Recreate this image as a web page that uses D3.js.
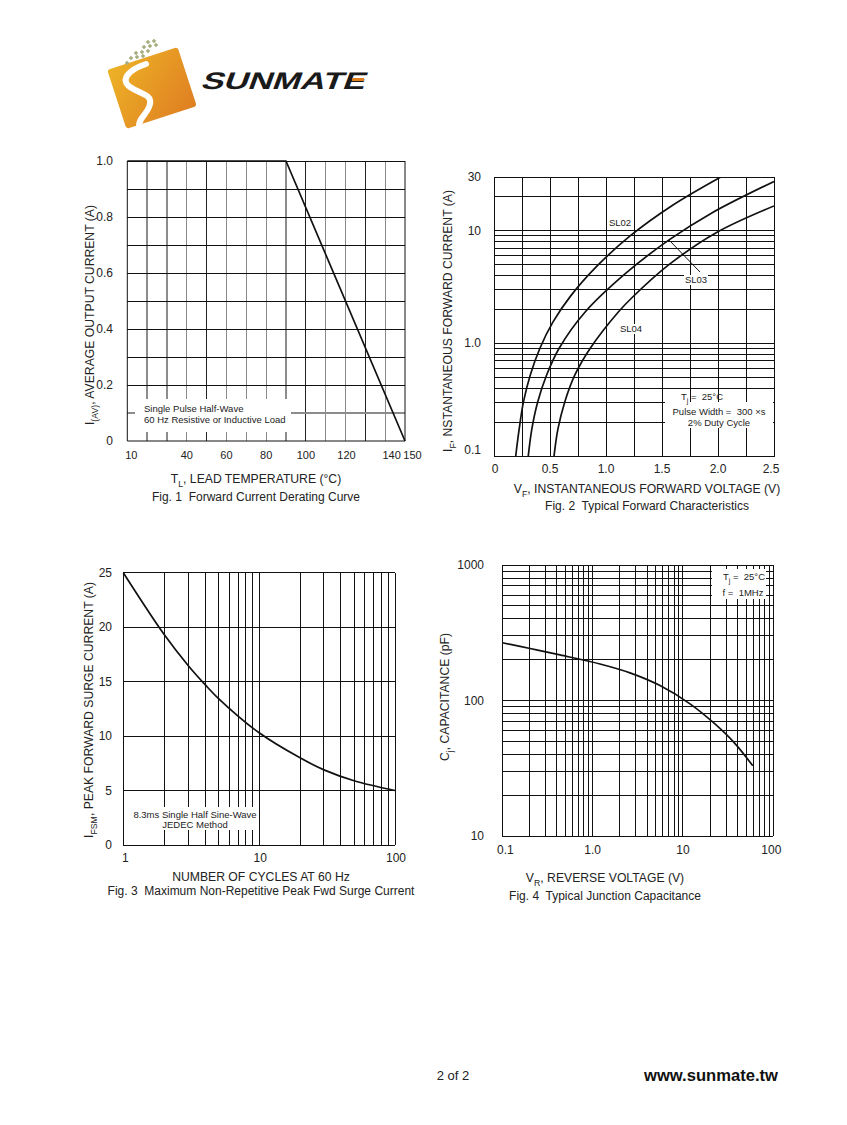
<!DOCTYPE html>
<html><head><meta charset="utf-8">
<script src="https://cdn.jsdelivr.net/npm/d3@7"></script>
<style>
body{margin:0;background:#fff}
svg{display:block}
text{font-family:"Liberation Sans",Arial,Helvetica,sans-serif;fill:#222;white-space:pre}
</style>
</head><body>
<svg id="c" width="847" height="1125"></svg>
<script>
// ---------------- DATA ----------------
// Fig. 1 Forward Current Derating Curve
const fig1Temp = [10, 90, 150];
const fig1Current = [1.0, 1.0, 0];
const fig1XTicks = [10, 40, 60, 80, 100, 120, 140, 150];
const fig1YTicks = [0, 0.2, 0.4, 0.6, 0.8, 1.0];
const fig1YTickLabels = ["0", "0.2", "0.4", "0.6", "0.8", "1.0"];

// Fig. 2 Typical Forward Characteristics
const fig2Series = ["SL02", "SL03", "SL04"];
const sl02Volt = [0.194, 0.225, 0.263, 0.324, 0.411, 0.527, 0.685, 0.921, 1.215, 1.585, 2.025];
const sl02Amp  = [0.1, 0.174, 0.302, 0.524, 0.91, 1.55, 2.64, 4.87, 8.99, 16.6, 30];
const sl03Volt = [0.306, 0.338, 0.39, 0.47, 0.583, 0.814, 1.18, 1.563, 1.945, 2.5];
const sl03Amp  = [0.1, 0.174, 0.302, 0.524, 0.91, 1.90, 4.22, 8.29, 14.4, 27.4];
const sl04Volt = [0.536, 0.571, 0.632, 0.722, 0.861, 1.11, 1.238, 1.559, 1.98, 2.5];
const sl04Amp  = [0.1, 0.174, 0.302, 0.524, 0.91, 1.90, 2.58, 4.97, 9.56, 16.6];
const fig2XTicks = [0, 0.5, 1.0, 1.5, 2.0, 2.5];
const fig2XTickLabels = ["0", "0.5", "1.0", "1.5", "2.0", "2.5"];
const fig2YTicks = [0.1, 1, 10, 30];
const fig2YTickLabels = ["0.1", "1.0", "10", "30"];

// Fig. 3 Maximum Non-Repetitive Peak Fwd Surge Current
const fig3Cycles = [1, 2, 3, 4, 5, 10, 20, 30, 50, 100];
const fig3Current = [25, 19.32, 16.48, 14.72, 13.47, 10.3, 8.0, 6.9, 5.9, 5.0];
const fig3XTicks = [1, 10, 100];
const fig3YTicks = [0, 5, 10, 15, 20, 25];

// Fig. 4 Typical Junction Capacitance
const fig4Volt = [0.1, 0.203, 0.435, 1.207, 2.59, 5.57, 11.97, 22.6, 37.7, 59.2];
const fig4Cap  = [267, 242, 217, 186, 160, 129, 94.5, 67.1, 48.1, 33.0];
const fig4XTicks = [0.1, 1, 10, 100];
const fig4XTickLabels = ["0.1", "1.0", "10", "100"];
const fig4YTicks = [10, 100, 1000];

// ---------------- DRAW ----------------
const svg = d3.select("#c");
svg.append("rect").attr("width", 847).attr("height", 1125).attr("fill", "#fff");
const defs = svg.append("defs");

const TICK = 12, TITLE = 12.2, CAP = 12, SMALL = 9.5;
const smooth = d3.curveCatmullRom.alpha(0.5);

function logMinors(lo, hi) {
  const out = [];
  for (let d = lo; d < hi; d *= 10) for (let k = 1; k <= 9; k++) out.push(d * k);
  out.push(hi);
  return out;
}
function hLines(g, vals, x0, x1, y, color, w) {
  g.selectAll(null).data(vals).enter().append("line")
    .attr("x1", x0).attr("x2", x1).attr("y1", d => y(d)).attr("y2", d => y(d))
    .attr("stroke", color).attr("stroke-width", w).attr("shape-rendering", "crispEdges");
}
function vLines(g, vals, y0, y1, x, color, w) {
  g.selectAll(null).data(vals).enter().append("line")
    .attr("y1", y0).attr("y2", y1).attr("x1", d => x(d)).attr("x2", d => x(d))
    .attr("stroke", color).attr("stroke-width", w).attr("shape-rendering", "crispEdges");
}
function txt(g, x, y, s, size, anchor) {
  return g.append("text").attr("x", x).attr("y", y).attr("font-size", size)
    .attr("text-anchor", anchor || "middle").text(s);
}
function subText(g, x, y, parts, size, anchor, rotate) {
  const t = g.append("text").attr("font-size", size).attr("text-anchor", anchor || "middle");
  if (rotate) t.attr("transform", `translate(${x},${y}) rotate(-90)`);
  else t.attr("x", x).attr("y", y);
  parts.forEach((p, i) => {
    const prevSub = i > 0 && parts[i - 1][1];
    const ts = t.append("tspan").text(p[0]);
    if (p[1]) ts.attr("dy", size * 0.3).attr("font-size", size * 0.72);
    else if (prevSub) ts.attr("dy", -size * 0.3);
  });
  return t;
}
function frame(g, f) {
  g.append("rect").attr("x", f.l).attr("y", f.t).attr("width", f.r - f.l).attr("height", f.b - f.t)
    .attr("fill", "none").attr("stroke", "#111").attr("shape-rendering", "crispEdges");
}

// ---------------- LOGO ----------------
const logo = svg.append("g");
const grad = defs.append("linearGradient").attr("id", "lg").attr("x1", "0").attr("y1", "0").attr("x2", "1").attr("y2", "1");
grad.append("stop").attr("offset", "0").attr("stop-color", "#EDB226");
grad.append("stop").attr("offset", "1").attr("stop-color", "#DF7E22");
logo.append("rect").attr("x", -37).attr("y", -31).attr("width", 74).attr("height", 62).attr("rx", 3)
  .attr("fill", "url(#lg)").attr("transform", "translate(152,88) rotate(-18)");
logo.append("path")
  .attr("d", "M146,64 C128,70 120,80 130,87 C140,94 152,94 150,104 C148,114 138,118 139,127")
  .attr("fill", "none").attr("stroke", "#fff").attr("stroke-width", 6).attr("stroke-linecap", "round");
const dots = [[148,42],[154,41],[144,47],[150,46],[156,45],[136,53],[142,52],[148,51],[131,58],[137,57],[143,56],[127,63]];
logo.selectAll(null).data(dots).enter().append("rect")
  .attr("x", d => d[0] - 1.6).attr("y", d => d[1] - 1.6).attr("width", 3.2).attr("height", 3.2)
  .attr("fill", "#A7AD7E").attr("transform", d => `rotate(45,${d[0]},${d[1]})`);
logo.append("text").attr("x", 0).attr("y", 0)
  .attr("transform", "translate(200,89) skewX(-20)")
  .attr("font-size", 24).attr("font-weight", 900).attr("font-family", "'DejaVu Sans',sans-serif")
  .attr("textLength", 164).attr("lengthAdjust", "spacingAndGlyphs")
  .style("fill", "#1a1a1a").text("SUNMATE");
logo.append("rect").attr("x", 352).attr("y", 78).attr("width", 12).attr("height", 3).attr("fill", "#E07F1F");

// ---------------- FIG 1 ----------------
{
  const f = {l: 127.3, r: 405, t: 161, b: 441};
  const x = d3.scaleLinear().domain([10, 150]).range([f.l, f.r]);
  const y = d3.scaleLinear().domain([0, 1]).range([f.b, f.t]);
  const g = svg.append("g");
  const vGrid = d3.range(20, 150, 10);
  const darkV = [50, 100, 130];
  vLines(g, vGrid.filter(d => !darkV.includes(d)), f.t, f.b, x, "#8c8c8c", 1.3);
  vLines(g, vGrid.filter(d => darkV.includes(d)), f.t, f.b, x, "#222", 1);
  hLines(g, [0.1], f.l, f.r, y, "#8c8c8c", 1.3);
  hLines(g, d3.range(2, 11).map(d => d / 10), f.l, f.r, y, "#111", 1);
  g.append("rect").attr("x", 135).attr("y", 399).attr("width", 156).attr("height", 33).attr("fill", "#fff");
  txt(g, 144, 412, "Single Pulse Half-Wave", SMALL, "start");
  txt(g, 144, 423, "60 Hz Resistive or Inductive Load", SMALL, "start");
  g.append("line").attr("x1", f.l).attr("x2", f.l).attr("y1", f.t).attr("y2", f.b).attr("stroke", "#111");
  g.append("line").attr("x1", f.r).attr("x2", f.r).attr("y1", f.t).attr("y2", f.b).attr("stroke", "#111");
  g.append("line").attr("x1", f.l).attr("x2", f.r).attr("y1", f.b).attr("y2", f.b).attr("stroke", "#111");
  g.append("path").datum(fig1Temp.map((t, i) => [t, fig1Current[i]]))
    .attr("d", d3.line().x(d => x(d[0])).y(d => y(d[1])))
    .attr("fill", "none").attr("stroke", "#111").attr("stroke-width", 1.7);
  g.selectAll(null).data(fig1XTicks).enter().append("text")
    .attr("x", d => x(d) + (d === 10 ? 4 : d === 140 ? 6.5 : d === 150 ? 7.5 : d === 120 ? 1 : 0))
    .attr("y", 459).attr("font-size", 11).attr("text-anchor", "middle").text(d => d);
  g.selectAll(null).data(fig1YTicks).enter().append("text")
    .attr("x", 113).attr("y", d => y(d) + 4).attr("font-size", TICK).attr("text-anchor", "end")
    .text((d, i) => fig1YTickLabels[i]);
  subText(g, 94, 315, [["I", 0], ["(AV)", 1], [", AVERAGE OUTPUT CURRENT (A)", 0]], TITLE, "middle", true);
  subText(g, 256, 483, [["T", 0], ["L", 1], [", LEAD TEMPERATURE (°C)", 0]], TITLE, "middle");
  txt(g, 256, 501, "Fig. 1  Forward Current Derating Curve", CAP, "middle");
}

// ---------------- FIG 2 ----------------
{
  const f = {l: 494, r: 774, t: 177, b: 456};
  const x = d3.scaleLinear().domain([0, 2.5]).range([f.l, f.r]);
  const y = d3.scaleLog().domain([0.1, 30]).range([f.b, f.t]);
  const g = svg.append("g");
  vLines(g, d3.range(0, 11).map(d => d * 0.25), f.t, f.b, x, "#111", 1);
  hLines(g, logMinors(0.1, 10).concat([20, 30]), f.l, f.r, y, "#111", 1);
  defs.append("clipPath").attr("id", "clip2").append("rect")
    .attr("x", f.l).attr("y", f.t).attr("width", f.r - f.l).attr("height", f.b - f.t);
  const series = [[sl02Volt, sl02Amp], [sl03Volt, sl03Amp], [sl04Volt, sl04Amp]];
  const line = d3.line().x(d => x(d[0])).y(d => y(d[1])).curve(smooth);
  series.forEach(s => {
    g.append("path").datum(s[0].map((v, i) => [v, s[1][i]]))
      .attr("d", line).attr("clip-path", "url(#clip2)")
      .attr("fill", "none").attr("stroke", "#111").attr("stroke-width", 1.7);
  });
  const labelPos = [[620, 226], [696, 283], [631, 332]];
  fig2Series.forEach((s, i) => {
    g.append("rect").attr("x", labelPos[i][0] - 12).attr("y", labelPos[i][1] - 8)
      .attr("width", 24).attr("height", 10).attr("fill", "#fff");
    txt(g, labelPos[i][0], labelPos[i][1], s, SMALL, "middle");
  });
  g.append("line").attr("x1", 669).attr("y1", 240).attr("x2", 700).attr("y2", 272)
    .attr("stroke", "#111").attr("stroke-width", 1);
  g.append("rect").attr("x", 665).attr("y", 402).attr("width", 108).attr("height", 26).attr("fill", "#fff");
  subText(g, 702, 400, [["T", 0], ["j", 1], [" =  25°C", 0]], SMALL, "middle");
  txt(g, 719, 415, "Pulse Width =  300 ×s", SMALL, "middle");
  txt(g, 719, 426, "2% Duty Cycle", SMALL, "middle");
  frame(g, f);
  g.selectAll(null).data(fig2XTicks).enter().append("text")
    .attr("x", d => x(d) + (d === 0 ? 1 : d === 2.5 ? -3 : 0)).attr("y", 473)
    .attr("font-size", TICK).attr("text-anchor", "middle").text((d, i) => fig2XTickLabels[i]);
  g.selectAll(null).data(fig2YTicks).enter().append("text")
    .attr("x", 481).attr("y", d => y(d) + (d === 0.1 ? -2 : 4)).attr("font-size", TICK)
    .attr("text-anchor", "end").text((d, i) => fig2YTickLabels[i]);
  subText(g, 452, 321, [["I", 0], ["F", 1], [", NSTANTANEOUS FORWARD CURRENT (A)", 0]], TITLE, "middle", true);
  subText(g, 647, 493, [["V", 0], ["F", 1], [", INSTANTANEOUS FORWARD VOLTAGE (V)", 0]], TITLE, "middle");
  txt(g, 647, 510, "Fig. 2  Typical Forward Characteristics", CAP, "middle");
}

// ---------------- FIG 3 ----------------
{
  const f = {l: 123.3, r: 395, t: 572.7, b: 845};
  const x = d3.scaleLog().domain([1, 100]).range([f.l, f.r]);
  const y = d3.scaleLinear().domain([0, 25]).range([f.b, f.t]);
  const g = svg.append("g");
  vLines(g, logMinors(1, 100), f.t, f.b, x, "#111", 1);
  hLines(g, fig3YTicks, f.l, f.r, y, "#111", 1);
  g.append("rect").attr("x", 133).attr("y", 807).attr("width", 123).attr("height", 23).attr("fill", "#fff");
  txt(g, 195, 818, "8.3ms Single Half Sine-Wave", SMALL, "middle");
  txt(g, 195, 828, "JEDEC Method", SMALL, "middle");
  g.append("path").datum(fig3Cycles.map((c, i) => [c, fig3Current[i]]))
    .attr("d", d3.line().x(d => x(d[0])).y(d => y(d[1])).curve(smooth))
    .attr("fill", "none").attr("stroke", "#111").attr("stroke-width", 1.7);
  g.selectAll(null).data(fig3XTicks).enter().append("text")
    .attr("x", d => x(d) + (d === 1 ? 2 : 1)).attr("y", 862).attr("font-size", TICK).attr("text-anchor", "middle").text(d => d);
  g.selectAll(null).data(fig3YTicks).enter().append("text")
    .attr("x", 112).attr("y", d => y(d) + 4).attr("font-size", TICK).attr("text-anchor", "end").text(d => d);
  subText(g, 93, 710, [["I", 0], ["FSM", 1], [", PEAK FORWARD SURGE CURRENT (A)", 0]], TITLE, "middle", true);
  txt(g, 261, 881, "NUMBER OF CYCLES AT 60 Hz", TITLE, "middle");
  txt(g, 261, 895, "Fig. 3  Maximum Non-Repetitive Peak Fwd Surge Current", CAP, "middle");
}

// ---------------- FIG 4 ----------------
{
  const f = {l: 502.3, r: 773.3, t: 565, b: 836};
  const x = d3.scaleLog().domain([0.1, 100]).range([f.l, f.r]);
  const y = d3.scaleLog().domain([10, 1000]).range([f.b, f.t]);
  const g = svg.append("g");
  vLines(g, logMinors(0.1, 100), f.t, f.b, x, "#111", 1);
  hLines(g, logMinors(10, 1000), f.l, f.r, y, "#111", 1);
  g.append("rect").attr("x", 712).attr("y", 569).attr("width", 54).attr("height", 30).attr("fill", "#fff");
  subText(g, 744, 580, [["T", 0], ["j", 1], [" =  25°C", 0]], SMALL, "middle");
  txt(g, 743, 596, "f =  1MHz", SMALL, "middle");
  g.append("path").datum(fig4Volt.map((v, i) => [v, fig4Cap[i]]))
    .attr("d", d3.line().x(d => x(d[0])).y(d => y(d[1])).curve(smooth))
    .attr("fill", "none").attr("stroke", "#111").attr("stroke-width", 1.7);
  g.selectAll(null).data(fig4XTicks).enter().append("text")
    .attr("x", d => x(d) + (d === 0.1 ? 3 : d === 100 ? -2 : 0)).attr("y", 854).attr("font-size", TICK)
    .attr("text-anchor", "middle").text((d, i) => fig4XTickLabels[i]);
  g.selectAll(null).data(fig4YTicks).enter().append("text")
    .attr("x", 484).attr("y", d => y(d) + 4).attr("font-size", TICK).attr("text-anchor", "end").text(d => d);
  subText(g, 449, 697, [["C", 0], ["j", 1], [", CAPACITANCE (pF)", 0]], TITLE, "middle", true);
  subText(g, 605, 882, [["V", 0], ["R", 1], [", REVERSE VOLTAGE (V)", 0]], TITLE, "middle");
  txt(g, 605, 900, "Fig. 4  Typical Junction Capacitance", CAP, "middle");
}

// ---------------- FOOTER ----------------
txt(svg, 453, 1080, "2 of 2", 13, "middle");
svg.append("text").attr("x", 778).attr("y", 1081).attr("font-size", 16.6).attr("font-weight", "bold")
  .attr("text-anchor", "end").style("fill", "#111").text("www.sunmate.tw");
</script>
</body></html>
